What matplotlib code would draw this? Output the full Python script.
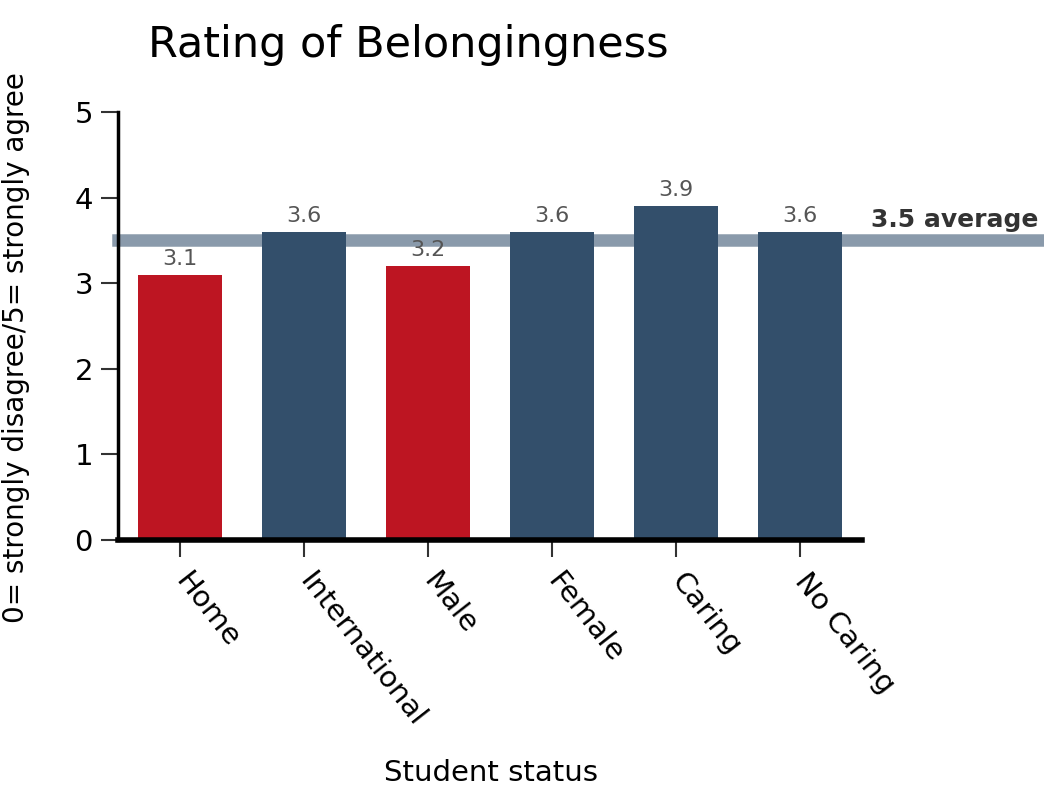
import matplotlib.pyplot as plt
import numpy as np

categories = ['Home', 'International', 'Male', 'Female', 'Caring', 'No Caring']
ratings = [3.1, 3.6, 3.2, 3.6, 3.9, 3.6]
bar_colors = ['#bd1522', '#334f6b', '#bd1522', '#334f6b', '#334f6b', '#334f6b']
average = 3.5

plt.rcParams['font.family'] = ['DejaVu Sans']

fig = plt.figure(figsize=(10.44, 7.89), dpi=100)
ax = fig.add_axes([0.113, 0.3156, 0.713, 0.5425])

x = np.arange(len(categories))
ax.bar(x, ratings, width=0.68, color=bar_colors, zorder=2)

# average line runs past the right edge of the plot
ax.axhline(average, xmin=0, xmax=1.25, color='#8a9aab', lw=9, zorder=1, clip_on=False)
ax.text(1.237, average + 0.1, '%.1f average' % average, transform=ax.get_yaxis_transform(),
        ha='right', va='bottom', fontsize=18, fontweight='bold', color='#333333')

for xi, v in zip(x, ratings):
    ax.text(xi, v + 0.07, '%.1f' % v, ha='center', va='bottom', fontsize=16, color='#555555', zorder=3)

ax.set_xlim(-0.5, 5.5)
ax.set_ylim(0, 5)
ax.set_yticks(range(6))
ax.set_xticks(x)
ax.set_xticklabels(categories, rotation=-52, rotation_mode='anchor', ha='left', va='center', fontsize=21)
ax.tick_params(axis='y', labelsize=21, length=12, width=1.5, color='#333333', pad=6)
ax.tick_params(axis='x', length=12, width=1.5, color='#333333', pad=14)

for s in ['top', 'right']:
    ax.spines[s].set_visible(False)
ax.spines['left'].set_linewidth(2.5)
ax.spines['bottom'].set_linewidth(4)

ax.set_title('Rating of Belongingness', fontsize=31, loc='left', x=0.04, y=1.11)
ax.set_ylabel('0= strongly disagree/5= strongly agree', fontsize=20)
ax.yaxis.set_label_coords(-0.118, 0.45)
fig.text(0.47, 0.02, 'Student status', ha='center', va='center', fontsize=21)

fig.savefig('out.png', dpi=100)
